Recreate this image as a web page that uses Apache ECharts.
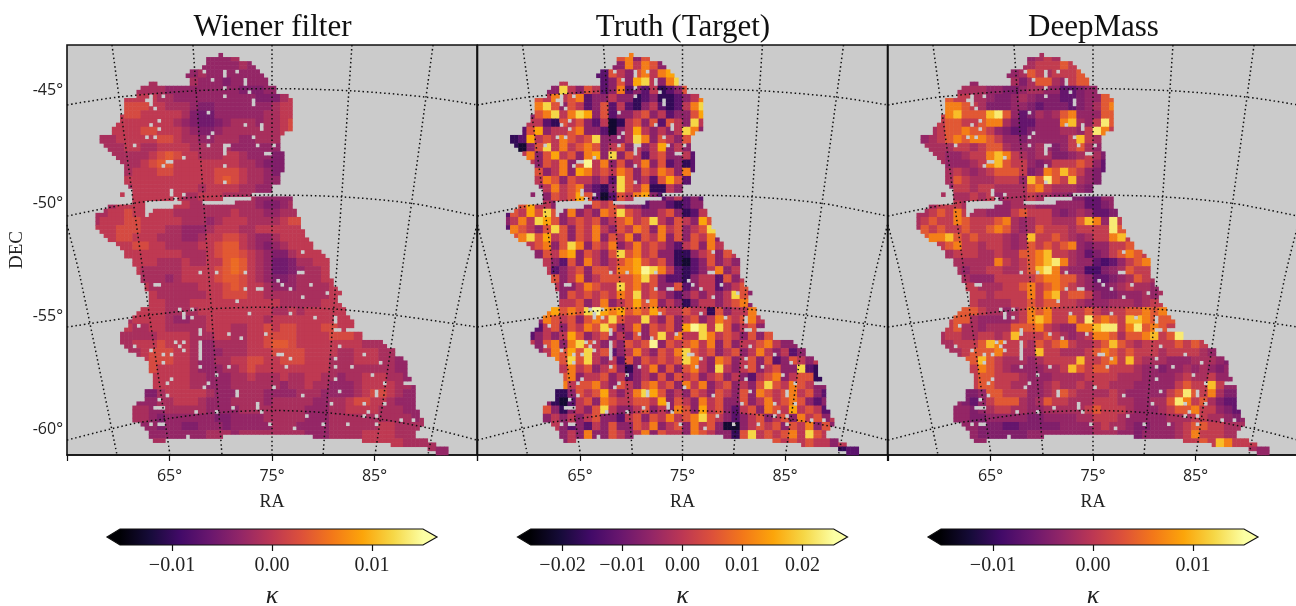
<!DOCTYPE html>
<html><head><meta charset="utf-8"><style>html,body{margin:0;padding:0;background:#fff}#c{width:1296px;height:606px}</style>
<script src="https://cdn.jsdelivr.net/npm/echarts@6/dist/echarts.min.js"></script></head><body><div id="c"></div>
<script>
const titles=['Wiener filter','Truth (Target)','DeepMass'];
const raTicks=[65,75,85], raEnds=[55,65,75,85,95], decTicks=[-60,-55,-50,-45];
const inferno=['#000004','#160b39','#420a68','#6a176e','#932667','#bc3754','#dd513a','#f37819','#fca50a','#f6d746','#fcffa4'];
const cbarTicks=[[-0.01,0,0.01],[-0.02,-0.01,0,0.01,0.02],[-0.01,0,0.01]];
const cbarRange=[[-0.0152,0.0151],[-0.0253,0.0252],[-0.0152,0.0151]];
const cbarTips=[[-0.0165,0.0165],[-0.0275,0.0275],[-0.0165,0.0165]];
const wienerLevels=[-0.007,-0.0056,-0.0044,-0.003,-0.0015,0.0002,0.0022,0.0036,0.005,0.0065];
const truthLevels=[-0.021,-0.017,-0.012,-0.006,0,0.005,0.0105,0.015,0.0201,0.0242];
const deepLevels=[-0.0085,-0.0065,-0.0045,-0.003,-0.0015,0.0005,0.0035,0.0065,0.0105,0.0135];
// footprint: column spans (end exclusive) for rows 2..99 of the 100x100 pixel map
const maskRows=['37-38','34-42','34-45','33-46','30-47','29-48','30-49','20-22,30-49','18-51','17-51','17-54','14-55','14-55','14-55','14-55','13-55','13-55','12-55','11-55','11-53','8-52','8-52','9-52','10-52','11-53','12-53','13-53','14-53','14-53','14-52','14-52','14-52','15-50','16-50','13-14,16-45','16-26,27-38,45-55','16-19,28-33,41-55','10-19,26-55','9-19,21-56','7-19,20-56','7-57','7-57','7-57','8-58','9-58','10-59','12-60','13-60','14-62','14-63','16-64','16-64','17-64','17-64','18-64','18-65','19-65','19-66','20-67','20-66','20-66','20-67','18-68','17-68','16-69','15-70','15-70','14-68','13-72','13-72','13-77','14-78','15-80','17-80','19-82','20-83','20-83','20-83','21-83','21-84','21-82','21-85','19-85','19-85','19-85','17-85','16-85','16-86','16-86','16-87','18-87','19-86','20-85','20-38,60-85','21-24,72-88','79-90','88-93','90-93'];
const holes=[[33,6],[38,6],[41,6],[38,7],[35,8],[43,8],[43,9],[38,10],[38,12],[44,11],[45,13],[45,14],[20,12],[20,13],[20,14],[19,13],[21,15],[23,12],[34,16],[22,18],[20,19],[22,20],[19,22],[21,22],[16,24],[47,19],[47,20],[43,19],[45,22],[46,24],[35,21],[34,22],[34,24],[38,24],[38,25],[38,26],[39,24],[48,26],[49,26],[50,24],[28,27],[24,28],[25,28],[23,29],[38,29],[38,33],[28,36],[25,35],[25,36],[36,55],[43,55],[32,55],[43,59],[21,58],[22,58],[46,59],[47,59],[51,57],[52,58],[54,59],[56,55],[57,55],[57,50],[59,58],[57,61],[63,60],[41,62],[30,64],[27,64],[28,65],[28,66],[30,66],[44,65],[54,65],[60,66],[65,66],[65,67],[65,69],[66,69],[17,68],[32,69],[32,70],[32,72],[32,73],[32,74],[32,75],[32,76],[32,78],[42,71],[39,70],[48,70],[26,72],[27,73],[28,72],[28,74],[16,73],[20,74],[23,75],[23,77],[25,75],[51,75],[52,75],[54,76],[53,78],[39,78],[36,80],[33,83],[34,82],[50,83],[25,81],[24,82],[41,84],[41,85],[24,85],[22,86],[21,88],[22,88],[23,88],[46,87],[46,88],[47,89],[40,88],[31,89],[36,89],[58,90],[64,87],[62,92],[68,92],[72,87],[73,89],[75,84],[75,85],[77,87],[75,90],[75,92],[72,90],[49,92],[55,93],[29,95],[22,92],[23,92],[20,92],[65,76],[65,78],[65,81],[69,78],[72,75],[76,77],[74,80],[77,82],[66,73],[57,85],[66,84],[81,91],[84,91]];
// first 8-pixel column of each value row, rows 1..49
const rowStartC=[17,17,15,10,9,7,7,6,6,5,4,4,5,6,7,7,7,8,5,3,3,3,4,6,7,8,8,9,9,10,10,8,7,6,6,6,7,9,10,10,10,9,8,8,8,9,10,10,44];
const wienerRows=['33343','3333433','3433333333','444444333233333','44433333333322233','555544333333333322245','666554443223333333455','5665555542113333334455','5555555432112344434456','55556655543223444444456','44555556654433444334443','44455445555444443333333','4444456765544455433322','444567755555555443222','45556655555666544322','55555555555676544333','4555555554555544333','55555544555444433333','45555555554444444432234','44556555554444444544433445','45556655555444345554444566','555666555443334555445555555','55665554443345566543345555','5566554444556775432345555','5555555444567765432245555','5554445445578754311244555','5444445555678754311234455','444345555677654322344455','5444444555676554333444455','544444455666554444444455','554445555555555544444555','555544445555555554454555554','45555433445555555455555555555','45445544444555445565665556655','4444455554445544556666555566655','4455565554334444556776555555554444','4456665543334445556666555544555444','566655433445566556665554445554433','65555433344565555555554444444433','555554433344544454455443445554433','555554433344444434454433345555443','2245555543334443333444333345665433','33344555433344443444443344566554333','443344444333344444444333445555444333','443233333322333344444333444444444434','33233223332333334443333444444554444','333333344434444444433344445555444','444444444444444444444444445555544443','433'];
const truthRows=['56354','3646534','2543564673','463532353784368','38435423623241235','546456233433123112346','685354235242134212468','3568468735233453423357','4421545324014535254384','25734456332034743434863','12745465458333486354353','10358464565345343473434','4635745367383542453342','435463594635346352312','53463764546535465362','46535443428534257523','3464563213854611434','35457520254673234232','57443343354543323321233','25475853634365854334531243','34648753454534564584354375','265435853546435465364534584','56857453546354635463535463','4563586354634645432453648','3546735435856453311345354','4325364345675453102353435','4234535546679864212346343','534634555568532213442534','4334654485645335234423453','354545465845432343434853','445346345756343134434563','675658976756575445441534463','36545356585448435345346545645','32453546585346354537984853453','234347534534353584644864543535363','4356368543435459354564635344564334','3465758452346435468545345346434234','658584342535454586436534535235434','46453453134635356438434534533821','563445342343535453453432456345513','645564354356453646345343585465433','1135457434687534354354353654564532','31024536544554735436453353464565323','531343584334534365374532453654745423','343434533245354645685432345345364534','43232435335463453645300345453546353','343633543463544365433158454564854','343444444444444444444444445454544343','122'];
const deepRows=['34544','4555654','3465455564','334334246643566','44433223443311233','655443223432221123366','776542223321222123467','5786668963124346733366','5665567742113337843596','45667665321123334435975','34567677653323333358545','44445545664333432356432','4433455787543442234542','433345786553235556531','45434566652376865321','46544455538696584322','3554554444675444322','44545344454433221133','45554445334443333331123','44565754433356555323431123','45655765556743455444687395','465655655676434655545555965','67786565554348556543455785','5675545543465656732335565','4555445446678554312356765','4444475456789743310135675','4344554456897433002346554','433355555677664311234654','5544455675676543223454434','554555575785665322333434','544445565665543334443455','666544345767555565455667675','56643333457875575967658876665','45644344466675433778995796765','4554455458555654345776466785697','4455568755546567544568654555565654','4456667554485544456765655545555433','668654443455558556758544433344432','57654333344586566555433233434323','566555433344445555444333345445332','566554433454454554443333356558533','2236655533456544445433333569657422','32135666434655444555443344697564211','332345544334444456555433345667553212','332233333223333445554333334445544323','33222112222233334544322333456655444','322222233333333444332333345755544','333333333333333333333333335565875554','433'];
// graticule polylines in (RA-axis, DEC-axis) units
const meridians=[[[59.39,-43],[62.12,-52.07],[65.05,-61.14]],[[67.29,-43],[68.66,-52.07],[70.12,-61.14]],[[75,-43],[75,-61.14]],[[82.8,-43],[81.44,-52.07],[79.98,-61.14]],[[90.71,-43],[87.98,-52.07],[85.05,-61.14]],[[55,-50.96],[56.27,-53.25],[59.88,-61.14]],[[95,-50.96],[93.73,-53.25],[90.22,-61.14]]];
const parallels=[[[55,-45.65],[59.88,-45.31],[67.29,-45.03],[75,-44.93],[82.8,-45.03],[90.1,-45.31],[95,-45.65]],[[55,-50.57],[61.5,-50.0],[68.22,-49.72],[75,-49.64],[81.83,-49.72],[88.5,-50.0],[95,-50.57]],[[55,-55.48],[62.8,-54.96],[68.85,-54.68],[75,-54.6],[81,-54.68],[87.05,-54.96],[95,-55.48]],[[55,-60.48],[61.5,-59.75],[64.5,-59.55],[69.5,-59.27],[75,-59.17],[80.3,-59.27],[85.5,-59.55],[90.71,-59.99],[95,-60.48]]];
const gridLefts=[67,477.5,888];
const serif='"Liberation Serif",serif', sans='"Open Sans","Noto Sans",sans-serif';
const valueRows=[wienerRows,truthRows,deepRows], levelSets=[wienerLevels,truthLevels,deepLevels];
const holeSet=new Set(holes.map(h=>h[0]+'_'+h[1]));
function cells(i){const out=[];maskRows.forEach((m,k)=>{const r=k+2,R=Math.floor(r/2);const row=valueRows[i][R-1];m.split(',').forEach(s=>{const [a,b]=s.split('-').map(Number);for(let c=a;c<b;c++){if(holeSet.has(c+'_'+r))continue;const idx=Math.max(0,Math.min(row.length-1,Math.floor(c/2)-rowStartC[R-1]));out.push([c,r,levelSets[i][+row[idx]]]);}});});return out;}
const cats=Array.from({length:100},(_,i)=>String(i));
const option={animation:false,backgroundColor:'#fff',title:[],grid:[],xAxis:[],yAxis:[],series:[],visualMap:[]};
titles.forEach((t,i)=>{
 const L=gridLefts[i];
 option.title.push({text:t,left:L+200.5,top:7,textAlign:'center',textStyle:{fontFamily:serif,fontWeight:'normal',fontSize:31,color:'#111'}});
 option.grid.push({left:L,top:45,width:410,height:410,show:true,outerBoundsMode:'none',backgroundColor:'#cbcbcb',borderColor:'#111',borderWidth:1.6});
 const base=option.xAxis.length;
 option.xAxis.push({gridIndex:i,type:'value',min:55,max:95,position:'bottom',name:'RA',nameLocation:'middle',nameGap:38,nameTextStyle:{fontFamily:serif,fontSize:18,color:'#222'},splitLine:{show:false},axisLine:{show:true,lineStyle:{color:'#111',width:1.6}},axisTick:{show:true,length:6,lineStyle:{color:'#111',width:1.2},customValues:raEnds},axisLabel:{customValues:raTicks,formatter:v=>v+'°',fontFamily:sans,fontSize:16,color:'#222',margin:13}});
 option.yAxis.push({gridIndex:i,type:'value',min:-61.14,max:-43,name:i==0?'DEC':'',nameLocation:'middle',nameGap:40,nameRotate:90,nameTextStyle:{fontFamily:serif,fontSize:19,color:'#222'},splitLine:{show:false},axisLine:{show:false},axisTick:{show:false},axisLabel:i==0?{customValues:decTicks,formatter:v=>v+'°',fontFamily:sans,fontSize:16,color:'#222',margin:4}:{show:false}});
 option.xAxis.push({gridIndex:i,type:'category',data:cats,show:false,boundaryGap:true});
 option.yAxis.push({gridIndex:i,type:'category',data:cats,show:false,boundaryGap:true,inverse:true});
 const sIdx=option.series.length;
 option.series.push({type:'heatmap',xAxisIndex:base+1,yAxisIndex:base+1,data:cells(i),silent:true,progressive:0,z:1});
 option.visualMap.push({show:false,seriesIndex:sIdx,dimension:2,min:cbarRange[i][0],max:cbarRange[i][1],inRange:{color:inferno}});
 meridians.concat(parallels).forEach(l=>option.series.push({type:'line',xAxisIndex:base,yAxisIndex:base,data:l,smooth:0.3,symbol:'none',silent:true,z:5,lineStyle:{color:'#111',width:1.5,type:[1.5,2.8]}}));
});
titles.forEach((t,i)=>{
 const gi=option.grid.length,L=gridLefts[i]+40;
 option.grid.push({left:L,top:529,width:330,height:16,outerBoundsMode:'none'});
 const xi=option.xAxis.length;
 option.xAxis.push({gridIndex:gi,type:'value',min:cbarTips[i][0],max:cbarTips[i][1],name:'κ',nameLocation:'middle',nameGap:38,nameTextStyle:{fontFamily:serif,fontStyle:'italic',fontSize:26,color:'#222'},splitLine:{show:false},axisLine:{show:false},axisTick:{show:true,length:6,lineStyle:{color:'#111',width:1.2},customValues:cbarTicks[i]},axisLabel:{customValues:cbarTicks[i],formatter:v=>(v<0?'\u2212':'')+Math.abs(v).toFixed(2),fontFamily:serif,fontSize:20,color:'#222',margin:11}});
 option.yAxis.push({gridIndex:gi,type:'value',min:0,max:1,show:false});
 const r=cbarRange[i],tp=cbarTips[i];
 option.series.push({type:'custom',xAxisIndex:xi,yAxisIndex:option.yAxis.length-1,silent:true,clip:false,data:[[r[0],r[1]]],renderItem:(p,api)=>{
  const q=(x,y)=>api.coord([x,y]);
  const pts=[q(tp[0],.5),q(r[0],1),q(r[1],1),q(tp[1],.5),q(r[1],0),q(r[0],0)];
  const span=tp[1]-tp[0],stops=[{offset:0,color:inferno[0]}];
  inferno.forEach((c,k)=>stops.push({offset:(r[0]+(r[1]-r[0])*k/10-tp[0])/span,color:c}));
  stops.push({offset:1,color:inferno[10]});
  return {type:'polygon',shape:{points:pts},style:{fill:new echarts.graphic.LinearGradient(0,0,1,0,stops),stroke:'#111',lineWidth:1.2}};
 }});
});
const chart=echarts.init(document.getElementById('c'),null,{renderer:'canvas'});
chart.setOption(option);
</script></body></html>
